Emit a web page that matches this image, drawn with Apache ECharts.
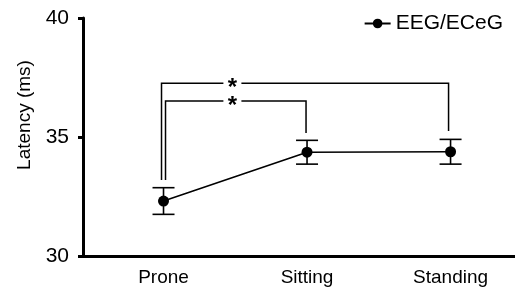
<!DOCTYPE html>
<html><head><meta charset="utf-8">
<script src="https://cdn.jsdelivr.net/npm/echarts@6/dist/echarts.min.js"></script>
<style>html,body{margin:0;padding:0;background:#fff}#c{width:515px;height:293px}</style>
</head><body><div id="c"></div>
<script>
var categories = ['Prone', 'Sitting', 'Standing'];
var latencyMean = [32.31, 34.36, 34.38];
var latencyErr = [0.56, 0.50, 0.52];
var yTicks = [30, 35, 40];
// significance brackets: [fromIndex, toIndex, bracket level, left foot, right foot]
var bracketFrom = [0, 0];
var bracketTo = [2, 1];
var bracketLevel = [37.26, 36.51];
var bracketLeftFoot = [33.19, 33.19];
var bracketRightFoot = [35.25, 35.17];
var bracketLabel = ['*', '*'];
var seriesName = 'EEG/ECeG';

var FONT = '"Liberation Sans", Arial, sans-serif';
var chart = echarts.init(document.getElementById('c'), null, {renderer: 'canvas'});

var pointData = categories.map(function (c, i) { return [i, latencyMean[i]]; });
var errData = categories.map(function (c, i) { return [i, latencyMean[i] - latencyErr[i], latencyMean[i] + latencyErr[i]]; });
var brData = bracketFrom.map(function (f, i) { return [f, bracketTo[i], bracketLevel[i], bracketLeftFoot[i], bracketRightFoot[i], i]; });
var leftOffsets = [-2, 2];
var rightOffsets = [-2, -1];

chart.setOption({
  animation: false,
  grid: {left: 83, right: 0, top: 18, bottom: 37},
  legend: {
    data: [seriesName], right: 7, top: 8, itemWidth: 26, itemHeight: 12, itemGap: 5,
    textStyle: {fontFamily: FONT, fontSize: 21, color: '#000'}
  },
  xAxis: {
    type: 'value', min: -0.561, max: 2.449,
    splitLine: {show: false},
    axisLine: {show: true, onZero: false, lineStyle: {color: '#000', width: 3}},
    axisTick: {show: false},
    axisLabel: {
      customValues: [0, 1, 2], margin: 12,
      formatter: function (v) { return categories[Math.round(v)]; },
      fontFamily: FONT, fontSize: 19, color: '#000'
    }
  },
  yAxis: {
    type: 'value', min: yTicks[0], max: yTicks[yTicks.length - 1], interval: 5,
    name: 'Latency (ms)', nameLocation: 'middle', nameGap: 48, nameRotate: 90,
    nameTextStyle: {fontFamily: FONT, fontSize: 19, color: '#000', padding: [0, 0, 0, 44]},
    splitLine: {show: false},
    axisLine: {show: true, onZero: false, lineStyle: {color: '#000', width: 3}},
    axisTick: {show: true, length: 5, lineStyle: {color: '#000', width: 3}},
    axisLabel: {margin: 14, fontFamily: FONT, fontSize: 21, color: '#000'}
  },
  series: [
    {
      name: 'brackets', type: 'custom', data: brData, silent: true,
      renderItem: function (params, api) {
        var i = api.value(5);
        var yL = api.coord([0, api.value(2)])[1];
        var xl = api.coord([api.value(0), 0])[0] + leftOffsets[i];
        var xr = api.coord([api.value(1), 0])[0] + rightOffsets[i];
        var yfl = api.coord([0, api.value(3)])[1];
        var yfr = api.coord([0, api.value(4)])[1];
        var xs = api.coord([0.48, 0])[0];
        var st = {stroke: '#000', lineWidth: 1.5, fill: null};
        return {type: 'group', children: [
          {type: 'polyline', shape: {points: [[xl, yfl], [xl, yL], [xs - 9, yL]]}, style: st},
          {type: 'polyline', shape: {points: [[xs + 9, yL], [xr, yL], [xr, yfr]]}, style: st},
          {type: 'text', x: xs, y: yL + 5, style: {text: bracketLabel[i], fontFamily: FONT, fontSize: 24, fontWeight: 'bold', fill: '#000', align: 'center', verticalAlign: 'middle'}}
        ]};
      },
      z: 1
    },
    {
      name: 'err', type: 'custom', data: errData, silent: true,
      renderItem: function (params, api) {
        var x = api.coord([api.value(0), 0])[0];
        var lo = api.coord([0, api.value(1)])[1];
        var hi = api.coord([0, api.value(2)])[1];
        var w = 11;
        var st = {stroke: '#000', lineWidth: 1.6};
        return {type: 'group', children: [
          {type: 'line', shape: {x1: x, y1: lo, x2: x, y2: hi}, style: st},
          {type: 'line', shape: {x1: x - w, y1: lo, x2: x + w, y2: lo}, style: st},
          {type: 'line', shape: {x1: x - w, y1: hi, x2: x + w, y2: hi}, style: st}
        ]};
      },
      z: 2
    },
    {
      name: seriesName, type: 'line', data: pointData,
      symbol: 'circle', symbolSize: 11,
      lineStyle: {color: '#000', width: 1.6},
      itemStyle: {color: '#000'},
      z: 3
    }
  ]
});
</script></body></html>
